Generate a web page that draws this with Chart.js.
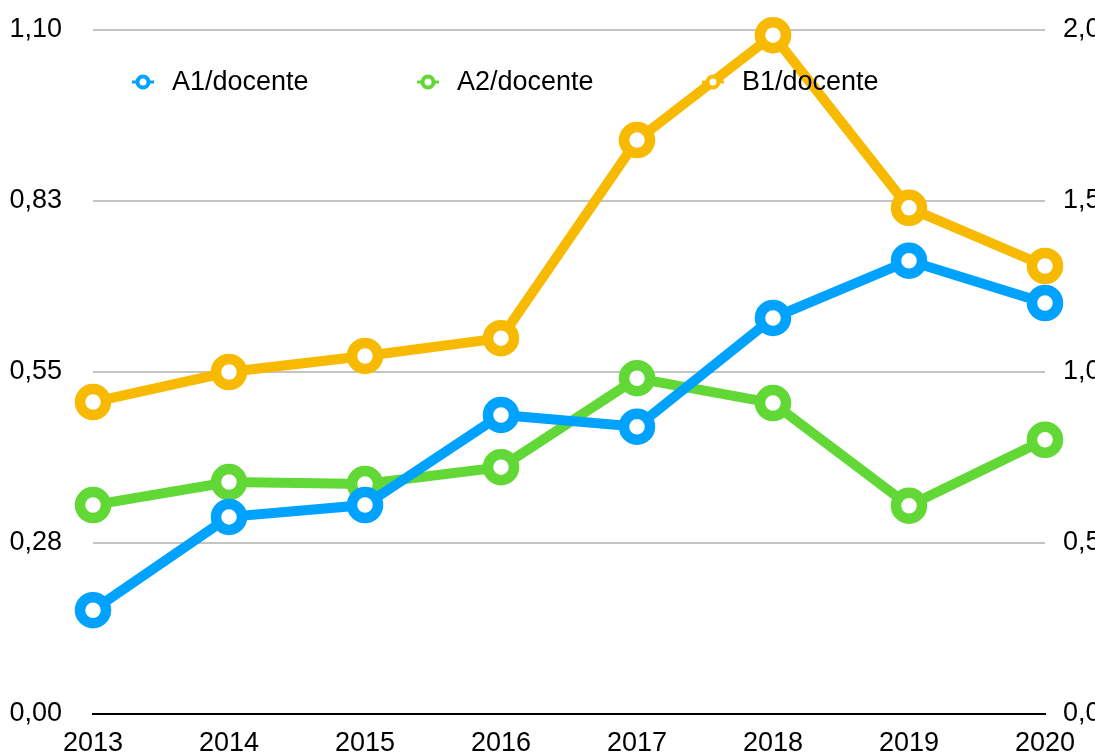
<!DOCTYPE html>
<html>
<head>
<meta charset="utf-8">
<script src="https://cdn.jsdelivr.net/npm/chart.js@4.4.0/dist/chart.umd.min.js"></script>
<style>
  html, body { margin: 0; padding: 0; background: #fff; }
  #wrap { width: 1095px; height: 753px; position: relative; }
</style>
</head>
<body>
<div id="wrap"><canvas id="chart"></canvas></div>
<script>
const years = ['2013', '2014', '2015', '2016', '2017', '2018', '2019', '2020'];
const a1 = [0.167, 0.317, 0.336, 0.481, 0.462, 0.637, 0.729, 0.661];
const a2 = [0.336, 0.373, 0.370, 0.397, 0.540, 0.500, 0.335, 0.441];
const b1 = [0.912, 1.000, 1.047, 1.099, 1.678, 1.985, 1.480, 1.310];

const leftTicks = [0, 0.275, 0.55, 0.825, 1.1];
const leftLabels = ['0,00', '0,28', '0,55', '0,83', '1,10'];
const rightTicks = [0, 0.5, 1, 1.5, 2];
const rightLabels = ['0,0', '0,5', '1,0', '1,5', '2,0'];

const FONT = 'Liberation Sans, Arial, Helvetica, sans-serif';
const FONT_SIZE = 27;

function series(label, data, color, axis) {
  return {
    label: label,
    data: data,
    yAxisID: axis,
    borderColor: color,
    backgroundColor: color,
    borderWidth: 10,
    pointRadius: 13,
    pointBorderWidth: 10.5,
    pointBackgroundColor: '#fff',
    pointBorderColor: color,
    tension: 0,
    clip: false,
  };
}

// legend drawn inside the plot, on top of the lines
const insideLegend = {
  id: 'insideLegend',
  afterDatasetsDraw(chart) {
    const ctx = chart.ctx;
    const area = chart.chartArea;
    const y = area.top + 52;
    ctx.save();
    chart.data.datasets.forEach((ds, i) => {
      const x = area.left + 50 + i * 285;
      ctx.strokeStyle = ds.borderColor;
      ctx.lineWidth = 3;
      ctx.beginPath();
      ctx.moveTo(x - 11, y);
      ctx.lineTo(x + 11, y);
      ctx.stroke();
      ctx.beginPath();
      ctx.arc(x, y, 5.5, 0, Math.PI * 2);
      ctx.fillStyle = '#fff';
      ctx.fill();
      ctx.lineWidth = 4;
      ctx.stroke();
      ctx.fillStyle = '#000';
      ctx.font = FONT_SIZE + 'px ' + FONT;
      ctx.textBaseline = 'middle';
      ctx.textAlign = 'left';
      ctx.fillText(ds.label, x + 29, y + 1);
    });
    ctx.restore();
  },
};

const tickFont = { family: FONT, size: FONT_SIZE };

new Chart(document.getElementById('chart'), {
  type: 'line',
  data: {
    labels: years,
    datasets: [
      series('A1/docente', a1, '#00A2FF', 'y'),
      series('A2/docente', a2, '#61D836', 'y'),
      series('B1/docente', b1, '#F8BA00', 'y1'),
    ],
  },
  options: {
    responsive: true,
    maintainAspectRatio: false,
    animation: false,
    events: [],
    layout: { padding: { top: 30, left: 0, right: 0, bottom: 0 } },
    plugins: {
      legend: { display: false },
      tooltip: { enabled: false },
    },
    scales: {
      x: {
        offset: false,
        grid: { display: false, drawTicks: false },
        border: { display: true, color: '#000', width: 2 },
        ticks: {
          color: '#000',
          font: tickFont,
          padding: 13,
          maxRotation: 0,
          autoSkip: false,
        },
        afterFit(scale) {
          scale.height = 39;
          scale.paddingLeft = 0;
          scale.paddingRight = 0;
        },
      },
      y: {
        position: 'left',
        min: 0,
        max: 1.1,
        afterBuildTicks(scale) { scale.ticks = leftTicks.map((v) => ({ value: v })); },
        grid: { color: '#C4C4C4', lineWidth: 2, drawTicks: false },
        border: { display: false },
        ticks: {
          color: '#000',
          font: tickFont,
          padding: 31,
          callback: (v, i) => leftLabels[i],
        },
        afterFit(scale) {
          scale.width = 93;
          scale.paddingTop = 0;
          scale.paddingBottom = 0;
        },
      },
      y1: {
        position: 'right',
        min: 0,
        max: 2,
        afterBuildTicks(scale) { scale.ticks = rightTicks.map((v) => ({ value: v })); },
        grid: { display: false, drawTicks: false },
        border: { display: false },
        ticks: {
          color: '#000',
          font: tickFont,
          padding: 18,
          callback: (v, i) => rightLabels[i],
        },
        afterFit(scale) {
          scale.width = 50;
          scale.paddingTop = 0;
          scale.paddingBottom = 0;
        },
      },
    },
  },
  plugins: [insideLegend],
});
</script>
</body>
</html>
